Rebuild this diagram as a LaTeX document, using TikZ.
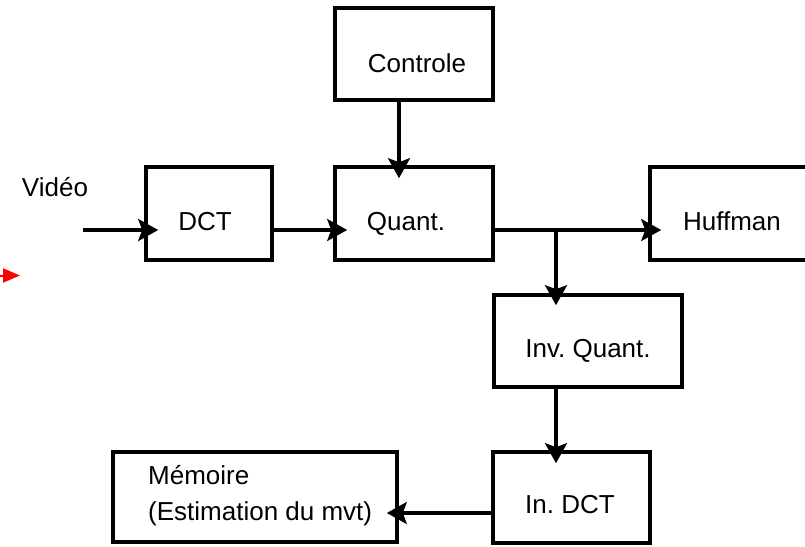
\documentclass[tikz,border=0pt]{standalone}
\usepackage{fontspec}
\setmainfont{Liberation Sans}
\usetikzlibrary{arrows.meta}
\frenchspacing

\begin{document}
\begin{tikzpicture}[x=1pt,y=-1pt,
  blockbox/.style={draw=black,line width=3.6pt,rectangle,inner sep=0pt,
                   minimum width=#1},
  blockbox/.default=158pt,
  lbl/.style={inner sep=0pt,anchor=base,font=\fontsize{26}{30}\selectfont},
  flow/.style={line width=3.2pt,
               -{Stealth[length=20pt,width=22pt,inset=4pt]}}]
  \useasboundingbox (0,0) rectangle (805,546);
  \begin{scope}
    \clip (0,0) rectangle (805,546);

    % blocks
    \node[blockbox=158pt,minimum height=92pt] (ctl)   at (414,54)    {};
    \node[blockbox=126pt,minimum height=93pt] (dct)   at (209,213.5) {};
    \node[blockbox=158pt,minimum height=93pt] (quant) at (414,213.5) {};
    \node[blockbox=180pt,minimum height=93pt] (huff)  at (740,213.5) {};
    \node[blockbox=188pt,minimum height=92pt] (invq)  at (588,341)   {};
    \node[blockbox=157pt,minimum height=91pt] (indct) at (571.5,497.5) {};
    \node[blockbox=284pt,minimum height=90pt] (mem)   at (255,497)   {};

    % labels
    \node[lbl] (tvid)   at (55,196)  {Vidéo};
    \node[lbl] (tctl)   at (417,72)  {Controle};
    \node[lbl] (tdct)   at (205,230) {DCT};
    \node[lbl] (tquant) at (406,230) {Quant.};
    \node[lbl] (thuff)  at (732,230) {Huffman};
    \node[lbl] (tinvq)  at (588,357) {Inv. Quant.};
    \node[lbl] (tindct) at (570,513) {In. DCT};
    \node[lbl,anchor=base west] (tmemA) at (148,484) {Mémoire};
    \node[lbl,anchor=base west] (tmemB) at (148,520) {(Estimation du mvt)};

    % helper coordinates for the signal lines
    \coordinate (vin)   at (83,230);
    \coordinate (row)   at (0,230);
    \coordinate (tap)   at (399,0);
    \coordinate (split) at (556,230);
    \coordinate (back)  at (0,513);

    % connectors
    \draw[flow,shorten >=-14pt] (vin) -- (vin -| dct.west);
    \draw[flow,shorten >=-14pt] (dct.east |- row) -- (quant.west |- row);
    \draw[flow,shorten >=-13pt] (ctl.south -| tap) -- (quant.north -| tap);
    \draw[flow,shorten >=-13pt] (quant.east |- row) -- (huff.west |- row);
    \draw[flow,shorten >=-12pt] (split) -- (split |- invq.north);
    \draw[flow,shorten >=-13pt] (split |- invq.south) -- (split |- indct.north);
    \draw[flow,shorten >=-12pt] (indct.west |- back) -- (mem.east |- back);

    % small red marker arrow at the left edge
    \coordinate (redA) at (-2,275.5);
    \coordinate (redB) at (20,275.5);
    \draw[red,line width=2pt,-{Triangle[length=17pt,width=14pt]}] (redA) -- (redB);
  \end{scope}
\end{tikzpicture}
\end{document}
